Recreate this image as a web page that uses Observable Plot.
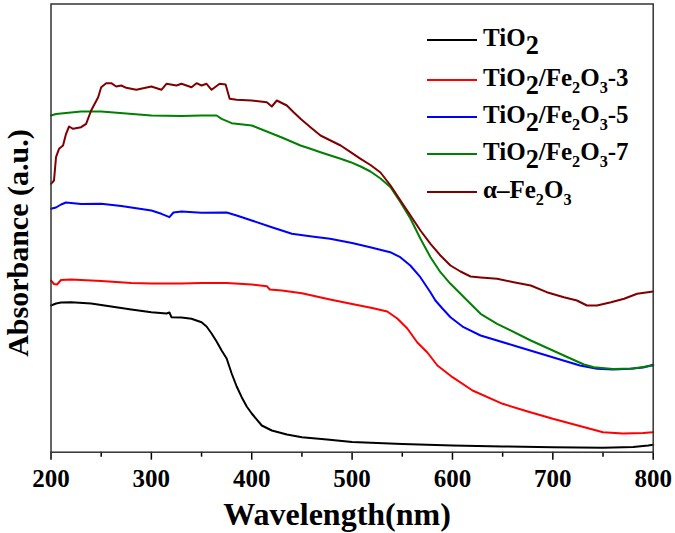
<!DOCTYPE html>
<html><head><meta charset="utf-8">
<script src="https://cdn.jsdelivr.net/npm/d3@7"></script>
<script src="https://cdn.jsdelivr.net/npm/@observablehq/plot@0.6"></script>
<style>
body{margin:0;background:#fff}
#wrap{position:relative;width:675px;height:533px;font-family:"Liberation Serif","Times New Roman",serif;font-weight:bold;color:#000}
.lg-line{position:absolute;height:2.5px;width:50px}
.lg-text{position:absolute;font-size:25px;line-height:25px;white-space:nowrap}
.big{font-size:1.05em;position:relative;top:0.3em}
.sm{font-size:0.65em;position:relative;top:0.45em}
</style></head><body><div id="wrap"></div>
<script>
// wavelength (nm) and absorbance (a.u.) per sample
const tio2Nm  = [200,205,210,220,240,260,280,300,315,318,320,330,340,350,355,360,365,370,375,380,385,390,395,400,410,420,435,450,475,500,550,600,650,700,750,780,795,800];
const tio2Abs = [1.467,1.487,1.497,1.50,1.487,1.457,1.427,1.40,1.387,1.397,1.35,1.347,1.334,1.30,1.257,1.187,1.107,1.017,0.937,0.787,0.657,0.55,0.457,0.387,0.267,0.217,0.177,0.15,0.127,0.102,0.082,0.067,0.057,0.05,0.044,0.052,0.067,0.074];

const fe3Nm  = [200,203,206,210,220,250,280,300,330,350,375,400,415,418,430,450,478,500,520,535,545,555,565,575,585,600,620,650,675,700,725,750,770,790,800];
const fe3Abs = [1.717,1.682,1.677,1.722,1.727,1.712,1.692,1.687,1.687,1.692,1.692,1.677,1.66,1.627,1.617,1.59,1.527,1.482,1.442,1.407,1.337,1.237,1.097,0.997,0.867,0.75,0.617,0.484,0.407,0.334,0.267,0.20,0.187,0.192,0.20];

const fe5Nm  = [200,205,210,215,230,250,270,290,300,310,318,322,330,350,375,385,400,420,440,460,478,500,518,538,548,558,568,578,583,590,598,611,628,661,694,727,744,760,777,790,800];
const fe5Abs = [2.434,2.447,2.477,2.497,2.482,2.484,2.462,2.432,2.417,2.384,2.35,2.397,2.407,2.394,2.397,2.367,2.317,2.25,2.184,2.157,2.134,2.092,2.05,2.00,1.95,1.867,1.75,1.60,1.517,1.437,1.35,1.25,1.167,1.067,0.967,0.867,0.834,0.827,0.834,0.847,0.874];

const fe7Nm  = [200,205,210,230,250,275,300,330,350,365,370,380,400,430,448.6,458.5,468.5,478.5,488.6,498.5,508.5,518.3,528.3,538.3,548.2,558.2,568.1,578.1,588,598,608,614.7,628,644.5,678,711,731,741,760,780,800];
const fe7Abs = [3.367,3.382,3.387,3.407,3.407,3.387,3.367,3.362,3.367,3.367,3.334,3.29,3.267,3.147,3.067,3.034,3.00,2.967,2.934,2.90,2.857,2.807,2.737,2.65,2.50,2.334,2.134,1.95,1.80,1.684,1.584,1.517,1.384,1.284,1.117,0.967,0.877,0.85,0.832,0.837,0.867];

const fe2o3Nm  = [200,203,205,208,212,215,218,222,230,235,240,247,250,255,260,265,270,275,285,300,310,315,325,330,340,345,350,355,360,368,374,378,385,400,415,420,425,435,442,448.6,458.5,468.5,478.5,488.6,498.5,508.5,518.3,528.3,538.3,548.2,558.2,568.1,578.1,588,598,608,618,628,644.5,661,678,694,711,724,734,744,758,771,784,800];
const fe2o3Abs = [2.684,2.717,2.95,3.034,3.067,3.184,3.257,3.234,3.25,3.284,3.417,3.55,3.65,3.69,3.69,3.657,3.667,3.644,3.624,3.657,3.624,3.684,3.667,3.684,3.65,3.69,3.667,3.684,3.624,3.684,3.677,3.534,3.524,3.517,3.50,3.457,3.517,3.467,3.397,3.334,3.25,3.167,3.117,3.067,3.00,2.934,2.872,2.797,2.667,2.517,2.367,2.217,2.084,1.967,1.867,1.807,1.757,1.747,1.734,1.70,1.667,1.60,1.55,1.517,1.467,1.467,1.50,1.534,1.584,1.607];

const seriesNames  = ["TiO2","TiO2/Fe2O3-3","TiO2/Fe2O3-5","TiO2/Fe2O3-7","α–Fe2O3"];
const seriesColors = ["#000000","#ff0000","#0000ff","#008000","#800000"];
const seriesNm  = [tio2Nm, fe3Nm, fe5Nm, fe7Nm, fe2o3Nm];
const seriesAbs = [tio2Abs, fe3Abs, fe5Abs, fe7Abs, fe2o3Abs];
const legendHtml = [
  'TiO<span class="big">2</span>',
  'TiO<span class="big">2</span>/Fe<span class="sm">2</span>O<span class="sm">3</span>-3',
  'TiO<span class="big">2</span>/Fe<span class="sm">2</span>O<span class="sm">3</span>-5',
  'TiO<span class="big">2</span>/Fe<span class="sm">2</span>O<span class="sm">3</span>-7',
  'α–Fe<span class="sm">2</span>O<span class="sm">3</span>'
];
const majorTicks = [200,300,400,500,600,700,800];
const minorTicks = [250,350,450,550,650,750];
const xTitle = "Wavelength(nm)";
const yTitle = "Absorbance (a.u.)";

const rows = [];
seriesNames.forEach((name, i) => {
  seriesNm[i].forEach((nm, j) => rows.push({series: name, nm, abs: seriesAbs[i][j]}));
});

const plot = Plot.plot({
  width: 675, height: 533,
  marginLeft: 50.5, marginRight: 22.3, marginTop: 3.5, marginBottom: 81.3,
  x: {domain: [200, 800]},
  y: {domain: [0, 4.482], axis: null},
  color: {domain: seriesNames, range: seriesColors},
  style: {fontFamily: '"Liberation Serif","Times New Roman",serif', fontWeight: "bold", background: "white", color: "#000"},
  marks: [
    Plot.axisX({ticks: majorTicks, tickSize: 8, tickPadding: 9, fontSize: 25, fontWeight: "bold", label: null, tickFormat: d => String(d), strokeWidth: 1.5}),
    Plot.axisX({ticks: minorTicks, tickSize: 5, tickFormat: () => "", label: null, strokeWidth: 1.5}),
    Plot.line(rows, {x: "nm", y: "abs", z: "series", stroke: "series", strokeWidth: 2}),
    Plot.frame({stroke: "#333", strokeWidth: 1.5}),
    Plot.text([xTitle], {frameAnchor: "bottom", text: d => d, dx: -15, dy: 63, fontSize: 32, fontWeight: "bold", lineAnchor: "middle"}),
    Plot.text([yTitle], {frameAnchor: "left", text: d => d, rotate: -90, textAnchor: "middle", dx: -33, dy: 15, fontSize: 30, fontWeight: "bold", lineAnchor: "middle"})
  ]
});
const wrap = document.getElementById("wrap");
wrap.appendChild(plot);

const rowY = [40, 80, 117, 154, 192];
seriesNames.forEach((name, i) => {
  const ln = document.createElement("div");
  ln.className = "lg-line";
  ln.style.left = "427px";
  ln.style.top = (rowY[i] - 1.25) + "px";
  ln.style.background = seriesColors[i];
  wrap.appendChild(ln);
  const tx = document.createElement("div");
  tx.className = "lg-text";
  tx.style.left = "483px";
  tx.style.top = (rowY[i] - 15) + "px";
  tx.innerHTML = legendHtml[i];
  wrap.appendChild(tx);
});
</script></body></html>
